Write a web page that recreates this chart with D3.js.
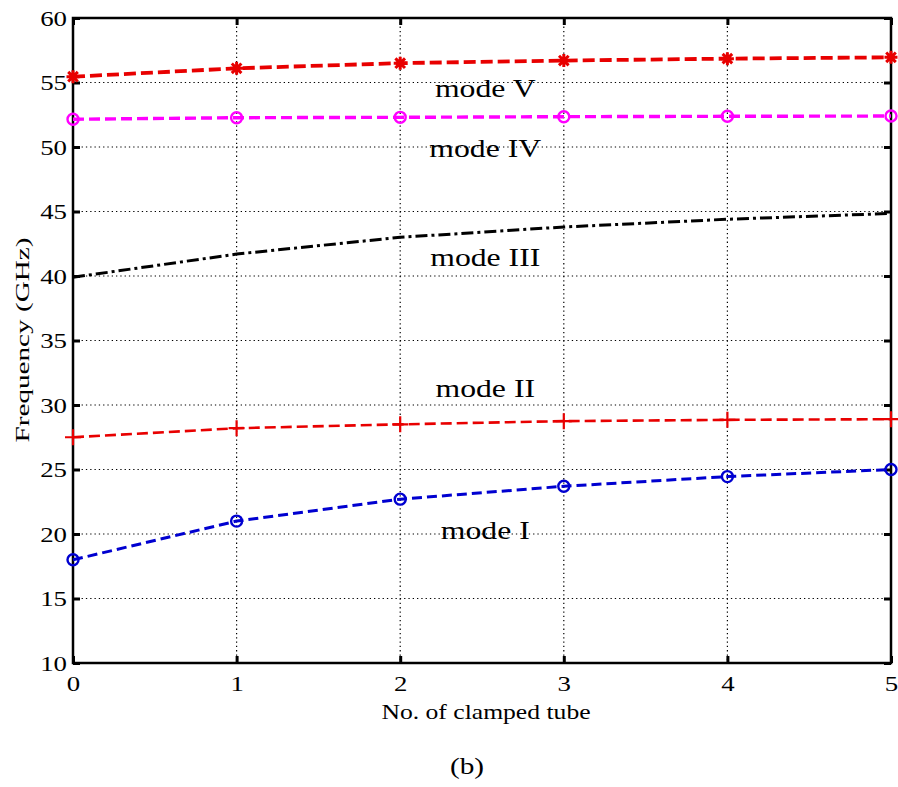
<!DOCTYPE html>
<html>
<head>
<meta charset="utf-8">
<script src="https://cdn.jsdelivr.net/npm/d3@7"></script>
<style>
body { margin: 0; background: #fff; overflow: hidden; }
text { font-family: "Liberation Serif", "Times New Roman", serif; fill: #000; }
</style>
</head>
<body>
<div id="chart"></div>
<script>
var clamped = [0, 1, 2, 3, 4, 5];
var mode1 = [18.0, 21.0, 22.7, 23.7, 24.45, 25.0];
var mode2 = [27.5, 28.2, 28.5, 28.75, 28.85, 28.9];
var mode3 = [39.9, 41.7, 43.0, 43.8, 44.4, 44.85];
var mode4 = [52.15, 52.27, 52.3, 52.35, 52.38, 52.4];
var mode5 = [55.45, 56.1, 56.5, 56.7, 56.85, 56.95];
var yTicks = [10, 15, 20, 25, 30, 35, 40, 45, 50, 55, 60];
var modeNames = ['mode I', 'mode II', 'mode III', 'mode IV', 'mode V'];

var width = 898, height = 787;
var margin = {left: 73, right: 7, top: 18, bottom: 124};
var plot_w = width - margin.left - margin.right;
var plot_h = height - margin.top - margin.bottom;
var stretch = 1.22; // the original's lettering is wide

var svg = d3.select('#chart')
	.append('svg')
	.attr('width', width)
	.attr('height', height);

var g = svg.append('g')
	.attr('transform', 'translate(' + margin.left + ',' + margin.top + ')');

// scales
var x_scale = d3.scaleLinear().domain([0, 5]).range([0, plot_w]);
var y_scale = d3.scaleLinear().domain([10, 60]).range([plot_h, 0]);

// grid
g.append('g').selectAll('line')
	.data(clamped.slice(1, 5))
	.enter().append('line')
	.attr('x1', function(d){ return x_scale(d); })
	.attr('x2', function(d){ return x_scale(d); })
	.attr('y1', 0).attr('y2', plot_h)
	.attr('stroke', '#000').attr('stroke-width', 1.2)
	.attr('stroke-dasharray', '1.3,3');
g.append('g').selectAll('line')
	.data(yTicks.slice(1, 10))
	.enter().append('line')
	.attr('y1', function(d){ return y_scale(d); })
	.attr('y2', function(d){ return y_scale(d); })
	.attr('x1', 0).attr('x2', plot_w)
	.attr('stroke', '#000').attr('stroke-width', 1.2)
	.attr('stroke-dasharray', '1.3,3');

// axes, ticks inside on all sides
var tickLen = 7;
var x_axis = d3.axisBottom(x_scale).tickValues(clamped).tickFormat(d3.format('d'))
	.tickSizeInner(-tickLen).tickSizeOuter(0).tickPadding(12);
var y_axis = d3.axisLeft(y_scale).tickValues(yTicks).tickFormat(d3.format('d'))
	.tickSizeInner(-tickLen).tickSizeOuter(0).tickPadding(6);

g.append('g').attr('transform', 'translate(0,' + plot_h + ')').call(x_axis);
g.append('g').call(y_axis);
g.append('g').call(d3.axisTop(x_scale).tickValues(clamped).tickSizeInner(-tickLen).tickSizeOuter(0).tickFormat(''));
g.append('g').attr('transform', 'translate(' + plot_w + ',0)')
	.call(d3.axisRight(y_scale).tickValues(yTicks).tickSizeInner(-tickLen).tickSizeOuter(0).tickFormat(''));

g.selectAll('.tick line').attr('stroke', '#000').attr('stroke-width', 3);
g.selectAll('.domain').remove();
g.selectAll('.tick text')
	.attr('font-size', 22)
	.attr('fill', '#000')
	.attr('font-family', '"Liberation Serif", serif')
	.classed('wide', true);

g.append('rect')
	.attr('width', plot_w).attr('height', plot_h)
	.attr('fill', 'none').attr('stroke', '#000').attr('stroke-width', 2.5);

// lines
var line = d3.line()
	.x(function(d, i){ return x_scale(clamped[i]); })
	.y(function(d){ return y_scale(d); });

var series = [
	{values: mode1, color: '#0000d0', dash: '10,5', width: 3, marker: 'circle'},
	{values: mode2, color: '#e80000', dash: '11,5', width: 2.6, marker: 'plus'},
	{values: mode3, color: '#000', dash: '12,4,3,4', width: 3, marker: 'none'},
	{values: mode4, color: '#ff00ff', dash: '11,5', width: 3.4, marker: 'circle'},
	{values: mode5, color: '#e80000', dash: '12,5', width: 3.8, marker: 'star'}
];

series.forEach(function(s){
	g.append('path')
		.datum(s.values)
		.attr('d', line)
		.attr('fill', 'none')
		.attr('stroke', s.color)
		.attr('stroke-width', s.width)
		.attr('stroke-dasharray', s.dash);

	var pts = g.append('g').selectAll('g')
		.data(s.values)
		.enter().append('g')
		.attr('transform', function(d, i){
			return 'translate(' + x_scale(clamped[i]) + ',' + y_scale(d) + ')';
		});

	if (s.marker === 'circle') {
		pts.append('circle').attr('r', 5.5)
			.attr('fill', 'none').attr('stroke', s.color).attr('stroke-width', 2.4);
	} else if (s.marker === 'plus') {
		pts.append('path').attr('d', 'M-8,0H8M0,-8V8')
			.attr('stroke', s.color).attr('stroke-width', 2.2);
	} else if (s.marker === 'star') {
		pts.append('path').attr('d', 'M-6.5,0H6.5M0,-6.5V6.5M-4.8,-4.8L4.8,4.8M-4.8,4.8L4.8,-4.8')
			.attr('stroke', s.color).attr('stroke-width', 3);
	}
});

// mode labels
var labelPos = [
	[2.52, 20.3], [2.52, 31.3], [2.52, 41.5], [2.52, 49.9], [2.52, 54.6]
];
g.append('g').selectAll('text')
	.data(modeNames)
	.enter().append('text')
	.attr('class', 'wide')
	.attr('x', function(d, i){ return x_scale(labelPos[i][0]); })
	.attr('y', function(d, i){ return y_scale(labelPos[i][1]); })
	.attr('text-anchor', 'middle')
	.attr('dy', '0.35em')
	.attr('font-size', 26)
	.text(function(d){ return d; });

// axis titles
svg.append('text')
	.attr('class', 'wide')
	.attr('x', 486)
	.attr('y', 719)
	.attr('text-anchor', 'middle')
	.attr('font-size', 21)
	.text('No. of clamped tube');

svg.append('text')
	.attr('transform', 'translate(29,' + 340 + ') rotate(-90)')
	.attr('text-anchor', 'middle')
	.attr('font-size', 18)
	.attr('textLength', 205)
	.attr('lengthAdjust', 'spacingAndGlyphs')
	.text('Frequency (GHz)');

svg.append('text')
	.attr('class', 'wide')
	.attr('x', 467)
	.attr('y', 774)
	.attr('text-anchor', 'middle')
	.attr('font-size', 24)
	.text('(b)');

// widen horizontal lettering like the original figure
svg.selectAll('text.wide').each(function(){
	var len = this.getComputedTextLength();
	d3.select(this)
		.attr('textLength', len * stretch)
		.attr('lengthAdjust', 'spacingAndGlyphs');
});
</script>
</body>
</html>
